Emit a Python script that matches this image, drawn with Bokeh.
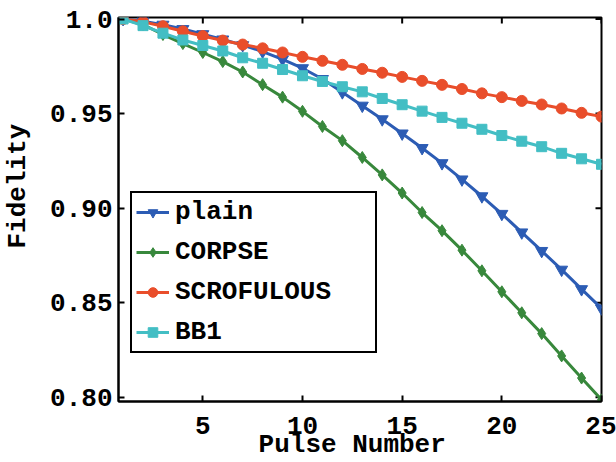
import math
from bokeh.plotting import figure
from bokeh.models import Range1d, FixedTicker, Legend, LegendItem
from bokeh.embed import file_html
from bokeh.resources import INLINE

pulses = list(range(1, 26))
plain = [1.0, 0.9988, 0.9970, 0.9947, 0.9920, 0.9892, 0.9862, 0.9828, 0.9787, 0.9740,
         0.9683, 0.9613, 0.9542, 0.9470, 0.9395, 0.9318, 0.9238, 0.9152, 0.9063, 0.8970,
         0.8872, 0.8774, 0.8675, 0.8572, 0.8470]
corpse = [1.0, 0.9970, 0.9918, 0.9870, 0.9823, 0.9775, 0.9720, 0.9653, 0.9587, 0.9512,
          0.9432, 0.9357, 0.9268, 0.9176, 0.9080, 0.8977, 0.8881, 0.8778, 0.8669, 0.8558,
          0.8447, 0.8337, 0.8219, 0.8102, 0.7987]
scrofulous = [1.0, 0.9985, 0.9962, 0.9935, 0.9910, 0.9886, 0.9865, 0.9845, 0.9823, 0.9800,
              0.9779, 0.9758, 0.9736, 0.9716, 0.9694, 0.9673, 0.9652, 0.9630, 0.9607, 0.9587,
              0.9567, 0.9548, 0.9527, 0.9504, 0.9484]
bb1 = [1.0, 0.9965, 0.9925, 0.9889, 0.9860, 0.9831, 0.9795, 0.9766, 0.9733, 0.9700,
       0.9670, 0.9642, 0.9615, 0.9580, 0.9547, 0.9513, 0.9480, 0.9449, 0.9417, 0.9384,
       0.9354, 0.9325, 0.9290, 0.9261, 0.9232]

series_names = ["plain", "CORPSE", "SCROFULOUS", "BB1"]
x_ticks = [5, 10, 15, 20, 25]
y_ticks = [0.80, 0.85, 0.90, 0.95, 1.0]
y_tick_labels = ["0.80", "0.85", "0.90", "0.95", "1.0"]
x_title = "Pulse Number"
y_title = "Fidelity"

FONT = "Liberation Mono"

xr = Range1d(0.77, 25.0)
yr = Range1d(0.7978, 1.0008)
p = figure(width=616, height=462, output_backend="svg", toolbar_location=None,
           x_range=xr, y_range=yr,
           min_border_left=117, min_border_right=15, min_border_top=17, min_border_bottom=61)
p.grid.visible = False
p.outline_line_color = "black"
p.outline_line_width = 2
p.background_fill_color = "white"
p.border_fill_color = "white"

p.xaxis.ticker = FixedTicker(ticks=x_ticks)
p.yaxis.ticker = FixedTicker(ticks=y_ticks)
p.yaxis.major_label_overrides = {t: l for t, l in zip(y_ticks, y_tick_labels)}

for ax in p.axis:
    ax.axis_line_color = "black"
    ax.axis_line_width = 2
    ax.major_tick_line_color = "black"
    ax.major_tick_line_width = 2
    ax.major_tick_in = 6
    ax.major_tick_out = 0
    ax.minor_tick_line_color = None
    ax.major_label_text_font = FONT
    ax.major_label_text_font_style = "bold"
    ax.major_label_text_font_size = "26px"
    ax.major_label_text_color = "black"
    ax.axis_label_text_font = FONT
    ax.axis_label_text_font_style = "bold"
    ax.axis_label_text_font_size = "26px"
    ax.axis_label_text_color = "black"

p.xaxis.axis_label = x_title + "\u00a0"
p.xaxis.major_label_standoff = 15
p.xaxis.axis_label_standoff = -7
p.yaxis.axis_label = "\u00a0\u00a0\u00a0" + y_title
p.yaxis.major_label_standoff = 6
p.yaxis.axis_label_standoff = 14

# inward ticks on the top and right edges (half of each dash is clipped by the frame)
tick_kw = dict(marker="dash", size=12, line_color="black", line_width=2)
p.scatter(x_ticks, [yr.end] * len(x_ticks), angle=math.pi / 2, **tick_kw)
p.scatter([xr.end] * len(y_ticks), y_ticks, **tick_kw)

colors = ["#2c5cb4", "#38883c", "#e94e2b", "#43bec4"]
markers = ["inverted_triangle", "diamond", "circle", "square"]
sizes = [12, 12, 11, 10]
data = [plain, corpse, scrofulous, bb1]

items = []
for name, ys, c, m, s in zip(series_names, data, colors, markers, sizes):
    lr = p.line(pulses, ys, line_color=c, line_width=3)
    sr = p.scatter(pulses, ys, marker=m, size=s, fill_color=c, line_color=c)
    items.append(LegendItem(label=name, renderers=[lr, sr]))

legend = Legend(items=items, location=(12, 48))
legend.label_text_font = FONT
legend.label_text_font_style = "bold"
legend.label_text_font_size = "26px"
legend.label_text_color = "black"
legend.border_line_color = "black"
legend.border_line_width = 2
legend.border_line_alpha = 1.0
legend.glyph_width = 33
legend.glyph_height = 24
legend.label_standoff = 6
legend.label_width = 196
legend.spacing = 10
legend.padding = 4
legend.margin = 0
legend.background_fill_alpha = 1.0
p.add_layout(legend)

open("out.html", "w").write(file_html(p, INLINE))
